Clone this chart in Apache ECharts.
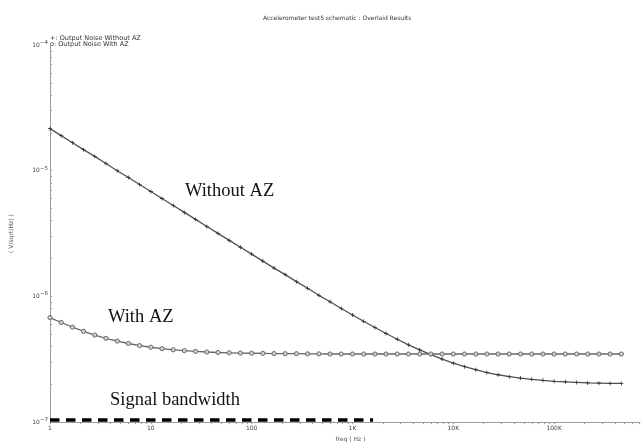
<!DOCTYPE html>
<html>
<head>
<meta charset="utf-8">
<script src="https://cdn.jsdelivr.net/npm/echarts@6/dist/echarts.min.js"></script>
<style>html,body{margin:0;padding:0;background:#fff;}#c{width:641px;height:447px;}</style>
</head>
<body>
<div id="c"></div>
<script>
var titleText = 'Accelerometer test5 schematic : Overlaid Results';
var seriesNames = ['Output Noise Without AZ', 'Output Noise With AZ'];
var freq = [1, 1.29, 1.67, 2.15, 2.78, 3.59, 4.64, 5.99, 7.74,
  10, 12.9, 16.7, 21.5, 27.8, 35.9, 46.4, 59.9, 77.4,
  100, 129, 167, 215, 278, 359, 464, 599, 774,
  1000, 1290, 1670, 2150, 2780, 3590, 4640, 5990, 7740,
  10000, 12900, 16700, 21500, 27800, 35900, 46400, 59900, 77400,
  100000, 129000, 167000, 215000, 278000, 359000, 464000];
var noiseWithoutAZ = [2.16e-5, 1.90e-5, 1.67e-5, 1.47e-5, 1.30e-5, 1.14e-5, 1.00e-5, 8.83e-6, 7.77e-6,
  6.83e-6, 6.01e-6, 5.29e-6, 4.66e-6, 4.10e-6, 3.60e-6, 3.17e-6, 2.79e-6, 2.46e-6,
  2.17e-6, 1.91e-6, 1.68e-6, 1.49e-6, 1.31e-6, 1.16e-6, 1.02e-6, 9.06e-7, 8.02e-7,
  7.12e-7, 6.34e-7, 5.66e-7, 5.07e-7, 4.56e-7, 4.12e-7, 3.75e-7, 3.44e-7, 3.17e-7,
  2.94e-7, 2.76e-7, 2.61e-7, 2.48e-7, 2.38e-7, 2.30e-7, 2.24e-7, 2.19e-7, 2.15e-7,
  2.11e-7, 2.09e-7, 2.07e-7, 2.05e-7, 2.04e-7, 2.03e-7, 2.03e-7];
var noiseWithAZ = [6.79e-7, 6.20e-7, 5.70e-7, 5.28e-7, 4.93e-7, 4.64e-7, 4.41e-7, 4.22e-7, 4.06e-7,
  3.94e-7, 3.84e-7, 3.76e-7, 3.70e-7, 3.65e-7, 3.61e-7, 3.58e-7, 3.56e-7, 3.54e-7,
  3.53e-7, 3.52e-7, 3.51e-7, 3.50e-7, 3.50e-7, 3.49e-7, 3.49e-7, 3.48e-7, 3.48e-7,
  3.48e-7, 3.48e-7, 3.48e-7, 3.48e-7, 3.48e-7, 3.48e-7, 3.48e-7, 3.48e-7, 3.48e-7,
  3.48e-7, 3.48e-7, 3.48e-7, 3.48e-7, 3.48e-7, 3.48e-7, 3.48e-7, 3.48e-7, 3.48e-7,
  3.48e-7, 3.48e-7, 3.48e-7, 3.48e-7, 3.48e-7, 3.48e-7, 3.48e-7];
var bandwidthFreq = [1, 1600];
var bandwidthLevel = [1.04e-7, 1.04e-7];
var xTickValues = [1, 10, 100, 1000, 10000, 100000];
var xTickLabels = ['1', '10', '100', '1K', '10K', '100K'];
var yTickValues = [1e-7, 1e-6, 1e-5, 1e-4];
var yTickLabels = ['\u22127', '\u22126', '\u22125', '\u22124'];
var annotations = ['Without AZ', 'With AZ', 'Signal bandwidth'];

function minorTicks(start, end) {
  var out = [];
  for (var d = start; d <= end; d *= 10) {
    for (var m = 1; m <= 9; m++) {
      var v = d * m;
      if (v <= end) out.push(+v.toPrecision(6));
    }
  }
  return out;
}
var xMinor = minorTicks(1, 700000);
var yMinor = minorTicks(1e-7, 1e-4);

function zip(a, b) { return a.map(function (v, i) { return [v, b[i]]; }); }

var plusPath = 'path://M4,0h2v4h4v2h-4v4h-2v-4h-4v-2h4z';
var lineColor = '#505050';
var axisColor = '#9a9a9a';
var fontSans = 'DejaVu Sans';
var fontSerif = 'Liberation Serif';

var chart = echarts.init(document.getElementById('c'), null, {renderer: 'canvas'});
chart.setOption({
  animation: false,
  backgroundColor: '#fff',
  title: {
    text: titleText, left: 258, top: 10,
    textStyle: {fontSize: 6, fontWeight: 'normal', color: '#333', fontFamily: fontSans}
  },
  grid: {left: 49, right: 1, top: 45, bottom: 19, containLabel: false},
  xAxis: {
    type: 'log', logBase: 10, min: 1, max: 710000,
    name: 'freq ( Hz )', nameLocation: 'middle', nameGap: 12,
    nameTextStyle: {fontSize: 6, color: '#555', fontFamily: fontSans, padding: [0, 0, 0, 11]},
    axisLine: {show: true, lineStyle: {color: axisColor, width: 1}},
    axisTick: {show: true, customValues: xMinor, length: 2, lineStyle: {color: axisColor}},
    axisLabel: {
      customValues: xTickValues, fontSize: 6, color: '#444', fontFamily: fontSans, margin: 3,
      formatter: function (v) {
        var i = -1;
        for (var k = 0; k < xTickValues.length; k++) if (Math.abs(Math.log10(v) - Math.log10(xTickValues[k])) < 1e-6) i = k;
        return i >= 0 ? xTickLabels[i] : '';
      }
    },
    splitLine: {show: false}, minorTick: {show: false}
  },
  yAxis: {
    type: 'log', logBase: 10, min: 1e-7, max: 1e-4,
    name: '( V/sqrt(Hz) )', nameLocation: 'middle', nameGap: 36, nameRotate: 90,
    nameTextStyle: {fontSize: 6, color: '#555', fontFamily: fontSans},
    axisLine: {show: true, lineStyle: {color: axisColor, width: 1}},
    axisTick: {show: true, customValues: yMinor, length: 2, inside: true, lineStyle: {color: axisColor}},
    axisLabel: {
      customValues: yTickValues, color: '#444', margin: 2,
      formatter: function (v) {
        var e = Math.round(Math.log10(v));
        var i = -1;
        for (var k = 0; k < yTickValues.length; k++) if (Math.round(Math.log10(yTickValues[k])) === e) i = k;
        return '{b|10}{s|' + (i >= 0 ? yTickLabels[i] : e) + '}';
      },
      rich: {
        b: {fontSize: 6, fontFamily: fontSans, color: '#444'},
        s: {fontSize: 5.5, fontFamily: fontSans, color: '#444', padding: [0, 0, 5, 0]}
      }
    },
    splitLine: {show: false}
  },
  graphic: [
    {type: 'text', left: 50, top: 35, style: {text: '+: ' + seriesNames[0], fontSize: 6.5, fontFamily: fontSans, fill: '#333'}},
    {type: 'text', left: 50, top: 41, style: {text: 'o: ' + seriesNames[1], fontSize: 6.5, fontFamily: fontSans, fill: '#333'}},
    {type: 'text', x: 185, y: 191, style: {text: annotations[0], fontSize: 18.5, fontFamily: fontSerif, fill: '#111', verticalAlign: 'middle'}},
    {type: 'text', x: 108, y: 317, style: {text: annotations[1], fontSize: 18.5, fontFamily: fontSerif, fill: '#111', verticalAlign: 'middle'}},
    {type: 'text', x: 110, y: 400, style: {text: annotations[2], fontSize: 18.5, fontFamily: fontSerif, fill: '#111', verticalAlign: 'middle'}}
  ],
  series: [
    {
      name: seriesNames[0], type: 'line', data: zip(freq, noiseWithoutAZ),
      symbol: plusPath, symbolSize: 4, showAllSymbol: true,
      lineStyle: {color: lineColor, width: 1.3},
      itemStyle: {color: '#333'}
    },
    {
      name: seriesNames[1], type: 'line', data: zip(freq, noiseWithAZ),
      symbol: 'circle', symbolSize: 4.2, showAllSymbol: true,
      lineStyle: {color: '#666', width: 1.3},
      itemStyle: {color: '#cfcfcf', borderColor: '#6a6a6a', borderWidth: 1}
    },
    {
      name: 'Signal bandwidth', type: 'line', data: zip(bandwidthFreq, bandwidthLevel),
      symbol: 'none', clip: false,
      lineStyle: {color: '#000', width: 3.5, type: [9.5, 6.5]}
    }
  ]
});
</script>
</body>
</html>
